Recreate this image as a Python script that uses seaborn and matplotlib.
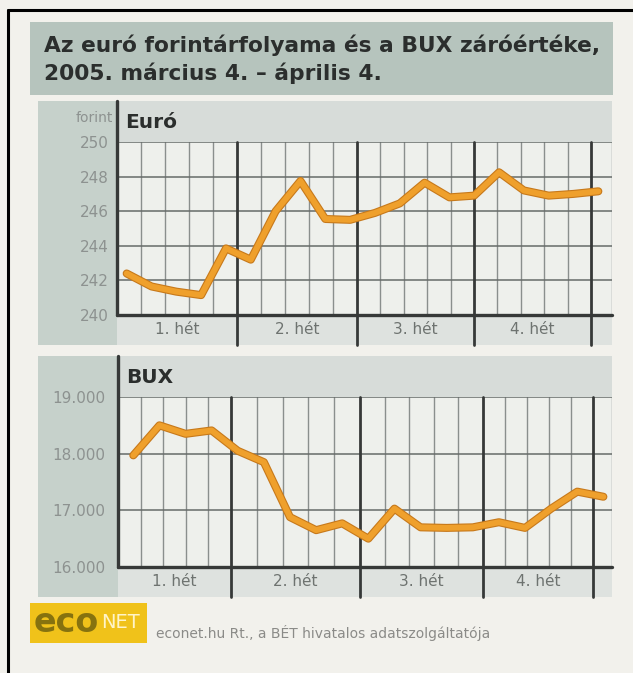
import numpy as np
import pandas as pd
import seaborn as sns
import matplotlib
matplotlib.use("Agg")
import matplotlib.pyplot as plt
from matplotlib.patches import Rectangle
from matplotlib.lines import Line2D
import matplotlib.patheffects as pe

# ---------------- data ----------------
title_lines = ["Az euró forintárfolyama és a BUX záróértéke,",
               "2005. március 4. – április 4."]
weeks = ["1. hét", "2. hét", "3. hét", "4. hét"]
panel_titles = ["Euró", "BUX"]
euro_unit = "forint"
euro_values = [242.4, 241.65, 241.35, 241.15, 243.85, 243.2, 246.0, 247.75, 245.55, 245.5,
               245.9, 246.45, 247.65, 246.8, 246.9, 248.25, 247.2, 246.9, 247.0, 247.15]
bux_values = [17970, 18500, 18350, 18410, 18050, 17850, 16880, 16650, 16770, 16500,
              17030, 16700, 16690, 16700, 16790, 16690, 17030, 17330, 17240]
euro_ticks = [240, 242, 244, 246, 248, 250]
euro_tick_labels = ["240", "242", "244", "246", "248", "250"]
bux_ticks = [16000, 17000, 18000, 19000]
bux_tick_labels = ["16.000", "17.000", "18.000", "19.000"]
source_text = "econet.hu Rt., a BÉT hivatalos adatszolgáltatója"
logo_parts = ["eco", "NET"]

# ---------------- style ----------------
W, H = 633, 673
sns.set_theme(style="white")
plt.rcParams["font.family"] = ["DejaVu Sans"]

PAPER = "#f2f1ec"
TITLE_BAND = "#b6c4bd"
LEFT_COL = "#c6d1cb"
HDR_BAND = "#d7dcd9"
PLOT_BG = "#eef0ec"
WEEK_BAND = "#dee2df"
DARK = "#2b2e2d"
GRID_H = "#666b69"
GRID_V = "#8a8f8d"
MAJOR = "#363938"
TICK_C = "#8d9290"
LINE_C = "#efa02c"
LINE_EDGE = "#c7791b"

fig = plt.figure(figsize=(W / 100, H / 100), dpi=100, facecolor=PAPER)


def fx(x):
    return x / W


def fy(y):
    return 1 - y / H


def rect(x0, y0, x1, y1, color, z=-1):
    fig.patches.append(Rectangle((fx(x0), fy(y1)), (x1 - x0) / W, (y1 - y0) / H,
                                 transform=fig.transFigure, facecolor=color,
                                 edgecolor="none", zorder=z))


def fline(xs, ys, color, lw, z=3):
    fig.lines.append(Line2D([fx(v) for v in xs], [fy(v) for v in ys],
                            transform=fig.transFigure, color=color, lw=lw, zorder=z))


# frame
fline([8, 8], [10, 673], "black", 2.2, z=10)
fline([8, 633], [10, 10], "black", 2.2, z=10)

# title band
rect(30, 22, 613, 95, TITLE_BAND)
fig.text(fx(44), fy(45), title_lines[0], fontsize=15.7, fontweight="bold",
         color=DARK, va="center", ha="left")
fig.text(fx(44), fy(73), title_lines[1], fontsize=15.7, fontweight="bold",
         color=DARK, va="center", ha="left")


def panel(values, title, ticks, tick_labels, hdr_top, plot_top, plot_bot, band_bot,
          left, right, xlim, bounds, ylim, pad, unit=None):
    # background pieces
    rect(38, hdr_top, left, band_bot, LEFT_COL)
    rect(left, hdr_top, right, plot_top, HDR_BAND)
    rect(left, plot_bot, right, band_bot, WEEK_BAND)

    ax = fig.add_axes([fx(left), fy(plot_bot), (right - left) / W, (plot_bot - plot_top) / H])
    ax.set_facecolor(PLOT_BG)
    for s in ax.spines.values():
        s.set_visible(False)

    x = np.arange(len(values))
    df = pd.DataFrame({"x": x, "v": values})
    sns.lineplot(data=df, x="x", y="v", ax=ax, color=LINE_C, lw=4.2, zorder=6)
    ln = ax.lines[-1]
    ln.set_solid_joinstyle("round")
    ln.set_solid_capstyle("round")
    ln.set_path_effects([pe.Stroke(linewidth=5.8, foreground=LINE_EDGE), pe.Normal()])

    ax.set_xlim(*xlim)
    ax.set_ylim(*ylim)
    ax.set_xlabel("")
    ax.set_ylabel("")
    ax.set_xticks([])
    ax.set_yticks(ticks)
    ax.set_yticklabels(tick_labels)
    ax.tick_params(axis="y", length=0, pad=pad, labelsize=11, labelcolor=TICK_C)

    # horizontal grid
    for t in ticks:
        ax.axhline(t, color=GRID_H, lw=1.1, zorder=2)
    # minor day lines
    for a, b in zip(bounds[:-1], bounds[1:]):
        for m in np.linspace(a, b, 6)[1:-1]:
            ax.axvline(m, color=GRID_V, lw=1.0, zorder=1)
    # right edge line
    ax.axvline(xlim[1], color=GRID_V, lw=1.0, zorder=1)

    band_frac = -(band_bot - plot_bot) / (plot_bot - plot_top)
    hdr_frac = 1 + (plot_top - hdr_top) / (plot_bot - plot_top)
    tr = ax.get_xaxis_transform()
    # week separators
    for b in bounds[1:]:
        ax.add_line(Line2D([b, b], [band_frac, 1.0], transform=tr, color=MAJOR,
                           lw=2.0, clip_on=False, zorder=4))
    # left axis and bottom axis
    ax.add_line(Line2D([0, 0], [0, hdr_frac], transform=ax.transAxes, color=MAJOR,
                       lw=2.4, clip_on=False, zorder=7))
    ax.add_line(Line2D([0, 1], [0, 0], transform=ax.transAxes, color=MAJOR,
                       lw=2.4, clip_on=False, zorder=7))

    # week labels
    for i, w in enumerate(weeks):
        c = (bounds[i] + bounds[i + 1]) / 2
        ax.text(c, band_frac / 2, w, transform=tr, ha="center", va="center",
                fontsize=11, color="#6e7370")

    # panel title
    fig.text(fx(left + 8), fy((hdr_top + plot_top) / 2 + 1), title, fontsize=14.5,
             fontweight="bold", color=DARK, va="center", ha="left")
    if unit:
        fig.text(fx(left - 4), fy((hdr_top + plot_top) / 2 - 4), unit, fontsize=10,
                 color=TICK_C, va="center", ha="right")
    return ax


panel(euro_values, panel_titles[0], euro_ticks, euro_tick_labels,
      hdr_top=101, plot_top=142, plot_bot=315, band_bot=345, left=117, right=612,
      xlim=(-0.39, 19.55), bounds=[-0.39, 4.44, 9.28, 13.99, 18.71],
      ylim=(240, 250), pad=6, unit=euro_unit)

panel(bux_values, panel_titles[1], bux_ticks, bux_tick_labels,
      hdr_top=356, plot_top=397, plot_bot=567, band_bot=597, left=118, right=612,
      xlim=(-0.586, 18.33), bounds=[-0.586, 3.74, 8.68, 13.38, 17.6],
      ylim=(16000, 19000), pad=9)

# footer logo and source
rect(30, 603, 147, 643, "#f0c21a")
fig.text(fx(34), fy(623), logo_parts[0], fontsize=24, color="#86720f",
         fontweight="bold", va="center", ha="left")
fig.text(fx(101), fy(622), logo_parts[1], fontsize=14, color="#fff4c8",
         va="center", ha="left")
fig.text(fx(156), fy(633), source_text, fontsize=10, color="#8b8b88",
         va="center", ha="left")

fig.savefig("out.png", dpi=100, facecolor=PAPER)
